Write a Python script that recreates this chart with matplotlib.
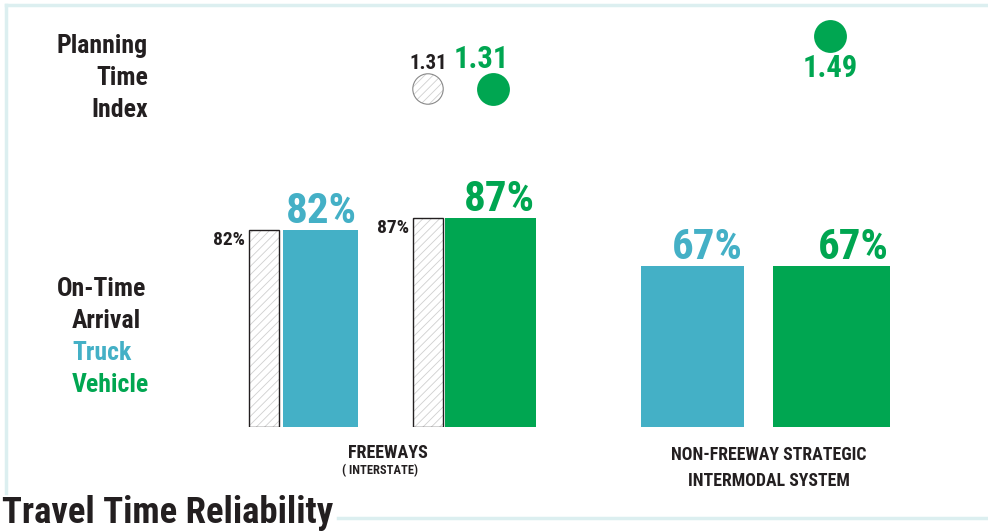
import matplotlib
matplotlib.use("Agg")
import matplotlib.pyplot as plt
from matplotlib.lines import Line2D

plt.rcParams['font.family'] = ['Roboto Condensed', 'DejaVu Sans']
plt.rcParams['font.weight'] = 'heavy'
plt.rcParams['hatch.linewidth'] = 0.6

# -----------------------------
# Data
# -----------------------------
groups = ["FREEWAYS", "NON-FREEWAY STRATEGIC\nINTERMODAL SYSTEM"]
truck_ontime = [82, 67]
vehicle_ontime = [87, 67]
# previous-period (ghost) values, only shown for freeways
ghost_truck = [82, None]
ghost_vehicle = [87, None]
pti_vehicle = [1.31, 1.49]
pti_ghost = [1.31, None]

BLUE = "#44b0c6"
GREEN = "#00a651"
DARK = "#231f20"
FRAME = "#dceff0"
HATCH = "#cfcfcf"

# layout (pixel x positions, bar widths)
truck_x = [320, 692]
truck_w = [75, 103]
veh_x = [490, 831]
veh_w = [91, 117]
ghost_truck_x = [264, None]
ghost_veh_x = [428, None]
ghost_w = 30
pti_x = [493, 830]
pti_ghost_x = [428, None]

fig = plt.figure(figsize=(9.88, 5.32), dpi=100)

# bar axes: y=0 at pixel 427, y=100 at pixel 187
ax = fig.add_axes([0, (532 - 427) / 532, 1, 240 / 532])
ax.set_xlim(0, 988)
ax.set_ylim(0, 100)
ax.axis("off")

for i in range(len(groups)):
    ax.bar(truck_x[i], truck_ontime[i], width=truck_w[i], color=BLUE, linewidth=0)
    ax.bar(veh_x[i], vehicle_ontime[i], width=veh_w[i], color=GREEN, linewidth=0)
    ax.text(truck_x[i] + truck_w[i] / 2 - 1, truck_ontime[i] - 0.6, f"{truck_ontime[i]}%",
            ha="right", va="bottom", color=BLUE, fontsize=31)
    ax.text(veh_x[i] + veh_w[i] / 2 - 1, vehicle_ontime[i] - 0.6, f"{vehicle_ontime[i]}%",
            ha="right", va="bottom", color=GREEN, fontsize=31)
    for gx, gv in ((ghost_truck_x[i], ghost_truck[i]), (ghost_veh_x[i], ghost_vehicle[i])):
        if gv is None:
            continue
        ax.bar(gx, gv, width=ghost_w, color="white", edgecolor=HATCH,
               hatch="////", linewidth=0)
        ax.bar(gx, gv, width=ghost_w, fill=False, edgecolor=DARK, linewidth=1.0)
        ax.text(gx - ghost_w / 2 - 4, gv - 0.4, f"{gv}%", ha="right", va="top",
                color=DARK, fontsize=14)

# planning time index axes: pixel 0..130 in y
pax = fig.add_axes([0, 1 - 130 / 532, 1, 130 / 532])
pax.set_xlim(0, 988)
pax.set_ylim(1.31 - 41 / 294.4, 1.31 + 89 / 294.4)
pax.axis("off")
pax.scatter(pti_x, pti_vehicle, s=560, color=GREEN, linewidths=0, zorder=3)
for i, v in enumerate(pti_ghost):
    if v is None:
        continue
    pax.scatter([pti_ghost_x[i]], [v], s=480, color="white", edgecolors=HATCH,
                hatch="////", linewidths=0, zorder=3)
    pax.scatter([pti_ghost_x[i]], [v], s=480, facecolors="none", edgecolors="#888888",
                linewidths=0.8, zorder=4)
    pax.text(pti_ghost_x[i], v + 0.055, f"{v:.2f}", ha="center", va="bottom",
             color=DARK, fontsize=15)
pax.text(pti_x[0] - 12, pti_vehicle[0] + 0.05, f"{pti_vehicle[0]:.2f}",
         ha="center", va="bottom", color=GREEN, fontsize=22)
pax.text(pti_x[1], pti_vehicle[1] - 0.058, f"{pti_vehicle[1]:.2f}",
         ha="center", va="top", color=GREEN, fontsize=22)

# left labels
for txt, y in (("Planning", 46), ("Time", 78), ("Index", 110)):
    fig.text(148 / 988, 1 - y / 532, txt, ha="right", va="center",
             color=DARK, fontsize=18.5)
for txt, x, y, c in (("On-Time", 57, 289, DARK), ("Arrival", 72, 321, DARK),
                     ("Truck", 72, 353, BLUE), ("Vehicle", 72, 385, GREEN)):
    fig.text(x / 988, 1 - y / 532, txt, ha="left", va="center", color=c, fontsize=18.5)

# category labels
fig.text(388 / 988, 1 - 453 / 532, "FREEWAYS", ha="center", va="center",
         color=DARK, fontsize=13)
fig.text(380 / 988, 1 - 471 / 532, "( INTERSTATE)", ha="center", va="center",
         color=DARK, fontsize=9)
fig.text(769 / 988, 1 - 468 / 532, groups[1], ha="center", va="center",
         color=DARK, fontsize=12.8, linespacing=1.5)

# frame lines
fig.add_artist(Line2D([6 / 988, 1], [1 - 5 / 532] * 2, color=FRAME, lw=2.5))
fig.add_artist(Line2D([6 / 988] * 2, [1 - 5 / 532, 1 - 493 / 532], color=FRAME, lw=2.5))
fig.add_artist(Line2D([338 / 988, 1], [1 - 518 / 532] * 2, color=FRAME, lw=2.5))

# title
fig.text(2 / 988, 1 / 532, "Travel Time Reliability", ha="left", va="bottom",
         color=DARK, fontsize=26.5)

fig.savefig("out.png", dpi=100)
